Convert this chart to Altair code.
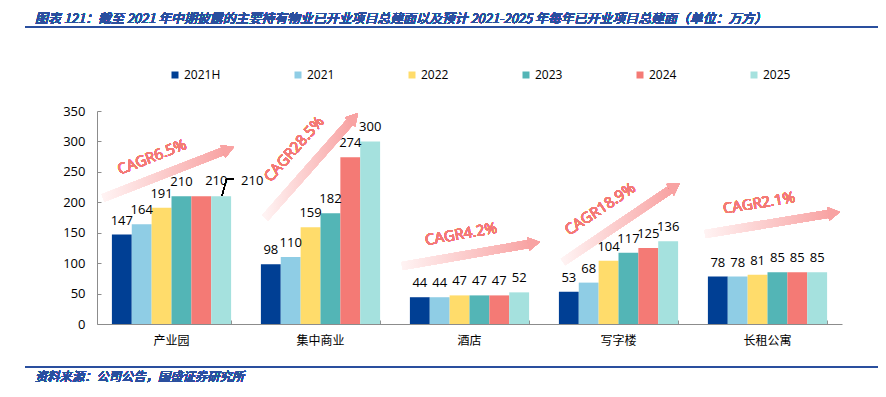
import altair as alt
import pandas as pd
import math

# ---------------- data ----------------
categories = ["产业园", "集中商业", "酒店", "写字楼", "长租公寓"]
series = ["2021H", "2021", "2022", "2023", "2024", "2025"]
v_2021h = [147, 98, 44, 53, 78]
v_2021 = [164, 110, 44, 68, 78]
v_2022 = [191, 159, 47, 104, 81]
v_2023 = [210, 182, 47, 117, 85]
v_2024 = [210, 274, 47, 125, 85]
v_2025 = [210, 300, 52, 136, 85]
colors = ["#003F94", "#8FCDE5", "#FFDC6B", "#53B5B6", "#F47A75", "#A5E1DE"]
y_ticks = [0, 50, 100, 150, 200, 250, 300, 350]
cagr_labels = ["CAGR6.5%", "CAGR28.5%", "CAGR4.2%", "CAGR18.9%", "CAGR2.1%"]

title_text = "图表 121：截至 2021 年中期披露的主要持有物业已开业项目总建面以及预计 2021-2025 年每年已开业项目总建面（单位：万方）"
source_text = "资料来源：公司公告，国盛证券研究所"

# annotation geometry (pixels inside the plot area)
arrow_start_x = [6, 168, 305, 466, 608]
arrow_start_y = [87, 107, 155, 151, 123]
arrow_tip_x = [137, 261, 443, 583, 743]
arrow_tip_y = [36, 2, 131, 72, 101]
cagr_x = [55, 197, 364, 503, 662]
cagr_y = [46, 38, 123, 98, 92]

rows = []
for s, vals in zip(series, [v_2021h, v_2021, v_2022, v_2023, v_2024, v_2025]):
    for c, v in zip(categories, vals):
        rows.append({"category": c, "series": s, "value": v})
df = pd.DataFrame(rows)

W, H = 745, 213
BLUE = "#2A4F9E"
AXIS_GRAY = "#8C8C8C"
NUM_FONT = "Open Sans"
CJK_FONT = "Noto Sans CJK SC"

x_main = alt.X(
    "category:N", sort=categories, title=None,
    scale=alt.Scale(paddingInner=0.2, paddingOuter=0.1),
    axis=alt.Axis(labelAngle=0, labelFont=CJK_FONT, labelFontSize=12, labelColor="#000",
                  labelPadding=11, ticks=False, domainColor=AXIS_GRAY, domainWidth=1, grid=False),
)
y_main = alt.Y(
    "value:Q", title=None, scale=alt.Scale(domain=[0, 350], nice=False),
    axis=alt.Axis(values=y_ticks, ticks=False, labelPadding=12, labelFont=NUM_FONT,
                  labelFontSize=13, labelColor="#000", domainColor=AXIS_GRAY, domainWidth=1, grid=False),
)
xoff = alt.XOffset("series:N", sort=series)

bars = alt.Chart(df).mark_bar().encode(
    x=x_main,
    y=y_main,
    xOffset=xoff,
    color=alt.Color(
        "series:N", sort=series,
        scale=alt.Scale(domain=series, range=colors),
        legend=alt.Legend(orient="none", legendX=72, legendY=-42, direction="horizontal",
                          title=None, symbolType="square", symbolSize=49, symbolStrokeWidth=0,
                          labelFont=NUM_FONT, labelFontSize=12, labelColor="#000",
                          labelOffset=3, columnPadding=71),
    ),
)

x_sec = alt.X(
    "category:N", sort=categories, title=None,
    scale=alt.Scale(paddingInner=0.2, paddingOuter=0.1),
    axis=alt.Axis(orient="bottom", labels=False, domain=False, ticks=True, tickSize=4,
                  tickColor=AXIS_GRAY, offset=-4, tickBand="extent", grid=False),
)
y_sec = alt.Y(
    "value:Q", title=None, scale=alt.Scale(domain=[0, 350], nice=False),
    axis=alt.Axis(orient="left", values=y_ticks, labels=False, domain=False, tickSize=4,
                  tickColor=AXIS_GRAY, offset=-4, grid=False),
)
x_none = alt.X("category:N", sort=categories, axis=None)
y_none = alt.Y("value:Q", axis=None)

label_style = dict(font=NUM_FONT, fontSize=13, color="#000", align="center", baseline="middle")

labels = alt.Chart(df).transform_filter(
    "!(datum.category == '产业园' && (datum.series == '2024' || datum.series == '2025'))"
).mark_text(dy=-14, **label_style).encode(
    x=x_sec, y=y_sec, xOffset=xoff, text="value:Q"
)

lab_2024 = alt.Chart(df).transform_filter(
    "datum.category == '产业园' && datum.series == '2024'"
).mark_text(dy=-15, dx=15, **label_style).encode(
    x=x_none, y=y_none, xOffset=xoff, text="value:Q"
)
lab_2025 = alt.Chart(df).transform_filter(
    "datum.category == '产业园' && datum.series == '2025'"
).mark_text(dy=-15, dx=31, **label_style).encode(
    x=x_none, y=y_none, xOffset=xoff, text="value:Q"
)

# leader line for the displaced 2025 label
leader_x = [125, 129.5]
leader_y = [85, 68]
leader_x2 = [129.5, 136.5]
leader_y2 = [68, 68]
leaders = [
    alt.Chart(df).mark_rule(color="#000", strokeWidth=1).encode(
        x=alt.value(a), y=alt.value(b), x2=alt.value(c), y2=alt.value(d))
    for a, b, c, d in zip(leader_x, leader_y, leader_x2, leader_y2)
]

# CAGR arrows
grad = alt.Gradient(
    gradient="linear",
    stops=[alt.GradientStop(color="#FFF3F3", offset=0), alt.GradientStop(color="#F8A3A3", offset=1)],
    x1=0, x2=1, y1=0, y2=0,
)
annot = []
for sx, sy, tx, ty, lx, ly, txt in zip(arrow_start_x, arrow_start_y, arrow_tip_x, arrow_tip_y,
                                        cagr_x, cagr_y, cagr_labels):
    dx, dy = tx - sx, ty - sy
    L = math.hypot(dx, dy)
    ux, uy = dx / L, dy / L
    ang = math.degrees(math.atan2(dy, dx)) % 360
    ex, ey = tx - ux * 10, ty - uy * 10
    hx, hy = tx - ux * 6, ty - uy * 6
    annot.append(alt.Chart(df).mark_rule(strokeWidth=8, stroke=grad, strokeCap="butt").encode(
        x=alt.value(sx), y=alt.value(sy), x2=alt.value(ex), y2=alt.value(ey)))
    annot.append(alt.Chart(df).mark_point(shape="triangle-right", filled=True, size=190,
                                          angle=ang, color="#F8A3A3", opacity=1).encode(
        x=alt.value(hx), y=alt.value(hy)))
    annot.append(alt.Chart(df).mark_text(text=txt, angle=ang, font=NUM_FONT, fontSize=15,
                                         color="#F47A75", align="center", baseline="middle").encode(
        x=alt.value(lx), y=alt.value(ly)))

# title, rules and source
title = alt.Chart(df).mark_text(text=title_text, font=CJK_FONT, fontSize=12.9, fontStyle="italic",
                                color=BLUE, align="left", baseline="alphabetic").encode(
    x=alt.value(-62), y=alt.value(-88))
top_line = alt.Chart(df).mark_rule(color=BLUE, strokeWidth=2).encode(
    x=alt.value(-72), x2=alt.value(800), y=alt.value(-84))
bottom_line = alt.Chart(df).mark_rule(color=BLUE, strokeWidth=2).encode(
    x=alt.value(-72), x2=alt.value(800), y=alt.value(256))
source = alt.Chart(df).mark_text(text=source_text, font=CJK_FONT, fontSize=12.3, fontStyle="italic",
                                 color=BLUE, align="left", baseline="alphabetic").encode(
    x=alt.value(-62), y=alt.value(270))

chart = alt.layer(
    bars, labels, lab_2024, lab_2025, *leaders, *annot, title, top_line, bottom_line, source
).resolve_axis(x="independent", y="independent").properties(
    width=W, height=H,
    autosize=alt.AutoSizeParams(type="none"),
    padding={"left": 89, "top": 103, "right": 36, "bottom": 61},
    background="white",
).configure_view(stroke=None)

chart.save("out.html", embed_options={"renderer": "svg", "actions": False})
